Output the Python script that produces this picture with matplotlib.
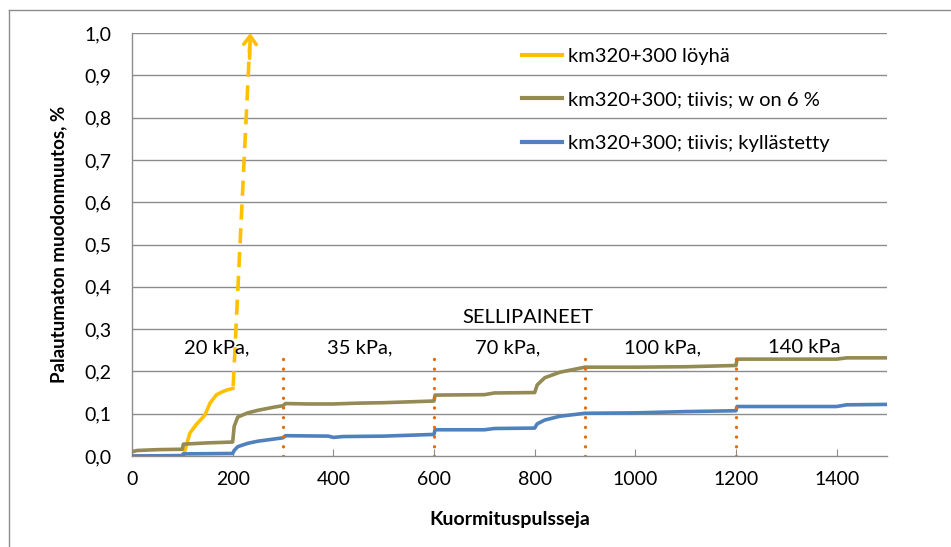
import matplotlib
matplotlib.use("Agg")
import matplotlib.pyplot as plt
from matplotlib.lines import Line2D

plt.rcParams['font.family'] = ['Lato', 'DejaVu Sans']

# Data
loyha_x = [0, 100, 102, 115, 128, 145, 155, 168, 180, 188, 195, 201]
loyha_y = [0.0, 0.0, 0.0, 0.054, 0.075, 0.097, 0.125, 0.145, 0.152, 0.156, 0.158, 0.160]
arrow_x = [201, 235]
arrow_y = [0.165, 1.0]

w6_x = [0, 10, 50, 100, 102, 150, 200, 203, 210, 230, 250, 280, 300, 305, 350, 400, 450, 500,
        550, 600, 602, 700, 720, 800, 805, 820, 850, 900, 1000, 1100, 1200, 1202, 1400, 1420, 1500]
w6_y = [0.010, 0.013, 0.015, 0.016, 0.028, 0.031, 0.033, 0.070, 0.092, 0.102, 0.108, 0.115, 0.119,
        0.124, 0.123, 0.123, 0.125, 0.126, 0.128, 0.130, 0.144, 0.145, 0.149, 0.150, 0.168, 0.185,
        0.198, 0.210, 0.210, 0.211, 0.214, 0.229, 0.229, 0.232, 0.232]

kyl_x = [0, 100, 102, 200, 203, 210, 230, 250, 300, 305, 390, 400, 420, 500, 600, 602, 700, 720,
         800, 805, 820, 850, 900, 1000, 1100, 1200, 1202, 1400, 1420, 1500]
kyl_y = [0.0, 0.001, 0.005, 0.006, 0.013, 0.022, 0.030, 0.035, 0.043, 0.048, 0.047, 0.044, 0.046,
         0.047, 0.051, 0.062, 0.062, 0.065, 0.066, 0.076, 0.085, 0.094, 0.101, 0.102, 0.105, 0.107,
         0.117, 0.117, 0.121, 0.122]

divider_x = [300, 600, 900, 1200]
divider_top = 0.246

pressure_labels = ["20 kPa,", "35 kPa,", "70 kPa,", "100 kPa,", "140 kPa"]
pressure_x = [168, 452, 747, 1054, 1335]
pressure_y = 0.256
title_label = "SELLIPAINEET"
title_x, title_y = 786, 0.327

legend_labels = ["km320+300 löyhä", "km320+300; tiivis; w on 6 %", "km320+300; tiivis; kyllästetty"]
c_yellow, c_olive, c_blue, c_orange = "#FFC000", "#948A54", "#4F81BD", "#E46C0A"

xticks = [0, 200, 400, 600, 800, 1000, 1200, 1400]
yticks = [0.0, 0.1, 0.2, 0.3, 0.4, 0.5, 0.6, 0.7, 0.8, 0.9, 1.0]

fig = plt.figure(figsize=(9.51, 5.47), dpi=100)
ax = fig.add_axes([132/951, 1 - 456/547, (887-132)/951, (456-33)/547])

grid_c = "#8C8C8C"
for t in yticks[1:]:
    ax.axhline(t, color=grid_c, lw=1.0, zorder=0)

lw = 2.6
ax.plot(loyha_x, loyha_y, color=c_yellow, lw=lw, zorder=2, solid_capstyle='round')
ax.plot(arrow_x[:1] + [arrow_x[0] + (arrow_x[1]-arrow_x[0])*0.96], arrow_y[:1] + [arrow_y[0] + (arrow_y[1]-arrow_y[0])*0.96],
        color=c_yellow, lw=lw, ls=(0, (4.2, 2.4)), zorder=2)
ax.annotate("", xy=(arrow_x[1], arrow_y[1]), xytext=(arrow_x[1]-1.4, arrow_y[1]-0.06),
            arrowprops=dict(arrowstyle="->,head_length=0.6,head_width=0.45", color=c_yellow, lw=lw,
                            shrinkA=0, shrinkB=0))
ax.plot(w6_x, w6_y, color=c_olive, lw=lw, zorder=3)
ax.plot(kyl_x, kyl_y, color=c_blue, lw=lw, zorder=4)

for dx in divider_x:
    ax.plot([dx, dx], [0, divider_top], color=c_orange, lw=2.4, ls=(0, (0.01, 2.9)),
            dash_capstyle='round', zorder=5)

fs = 14.5
for lab, px in zip(pressure_labels, pressure_x):
    ax.text(px, pressure_y, lab, ha='center', va='center', fontsize=fs, color='black')
ax.text(title_x, title_y, title_label, ha='center', va='center', fontsize=fs, color='black')

ax.set_xlim(0, 1500)
ax.set_ylim(0, 1.0)
ax.set_xticks(xticks)
ax.set_yticks(yticks)
ax.set_yticklabels([f"{v:.1f}".replace('.', ',') for v in yticks])
ax.tick_params(axis='x', direction='in', length=5, color=grid_c, labelsize=14, pad=11)
ax.tick_params(axis='y', length=0, labelsize=14, pad=15)
for s in ['top', 'right']:
    ax.spines[s].set_visible(False)
for s in ['left', 'bottom']:
    ax.spines[s].set_color(grid_c)
    ax.spines[s].set_linewidth(1.0)

ax.set_xlabel("Kuormituspulsseja", fontsize=14, fontweight='bold', labelpad=16)
ax.set_ylabel("Palautumaton muodonmuutos, %", fontsize=13.5, fontweight='bold', labelpad=12)

handles = [Line2D([], [], color=c, lw=3) for c in (c_yellow, c_olive, c_blue)]
leg = ax.legend(handles, legend_labels, loc='upper left', bbox_to_anchor=((504-132)/755, 1 - (30-33)/423),
                frameon=False, fontsize=fs, handlelength=2.0, handletextpad=0.3, labelspacing=1.3)

# outer chart frame
fig.add_artist(Line2D([9/951, 9/951], [0, 1 - 10/547], transform=fig.transFigure, color="#8C8C8C", lw=1))
fig.add_artist(Line2D([9/951, 1], [1 - 10/547, 1 - 10/547], transform=fig.transFigure, color="#8C8C8C", lw=1))

fig.savefig("out.png", dpi=100)
